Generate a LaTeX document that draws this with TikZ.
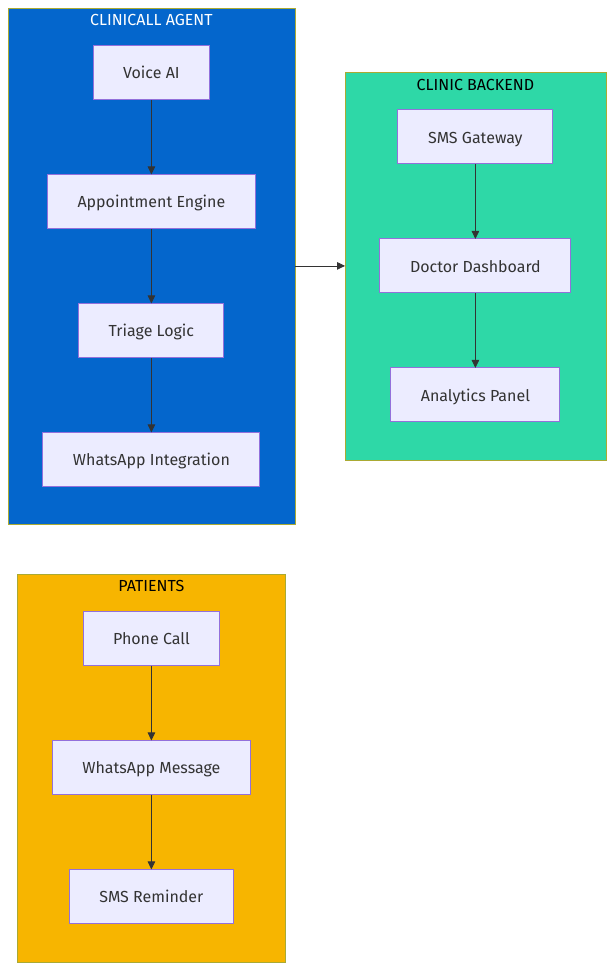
\documentclass[tikz,border=0pt]{standalone}
\usepackage{fontspec}
\setmainfont{Fira Sans}
\usetikzlibrary{arrows.meta}
\definecolor{nodefill}{HTML}{ECECFF}
\definecolor{nodeline}{HTML}{9370DB}
\definecolor{txt}{HTML}{333333}
\definecolor{agent}{HTML}{0466CC}
\definecolor{backend}{HTML}{2ED8A7}
\definecolor{patients}{HTML}{F7B500}
\definecolor{frame}{HTML}{AAAA33}
\definecolor{edge}{HTML}{333333}
\begin{document}
\begin{tikzpicture}[x=1pt,y=1pt,
  groupbox/.style={draw=frame,line width=0.7pt,inner sep=0pt},
  flow/.style={draw=edge,line width=0.8pt,-{Triangle[length=8pt,width=7.5pt]},shorten >=-0.5pt},
  stepbox/.style={draw=nodeline,fill=nodefill,line width=0.9pt,text=txt,font=\fontsize{16}{19}\selectfont,inner sep=0pt,anchor=center,text height=14pt,text depth=1pt},
  grouplabel/.style={font=\fontsize{16}{19}\selectfont,anchor=center,inner sep=0pt,text height=12.5pt,text depth=2.5pt}]
\useasboundingbox (0,0) rectangle (614,-969);
\fill[white] (0,0) rectangle (614,-969);
\node[groupbox,fill=agent,minimum width=287pt,minimum height=516pt] (gagent) at (151.4,-265.9) {};
\node[groupbox,fill=backend,minimum width=261pt,minimum height=388pt] (gbackend) at (475.4,-265.9) {};
\node[groupbox,fill=patients,minimum width=268pt,minimum height=388pt] (gpatients) at (151.4,-767.9) {};
\node[grouplabel,text=white] (lagent) at (151.4,-20) {CLINICALL AGENT};
\node[grouplabel,text=black] (lbackend) at (475.4,-85) {CLINIC BACKEND};
\node[grouplabel,text=black] (lpatients) at (151.4,-586) {PATIENTS};
\node[stepbox,minimum width=116pt,minimum height=54pt] (voice) at (151.4,-72.4) {Voice AI};
\node[stepbox,minimum width=208pt,minimum height=54pt] (appt) at (151.4,-201.4) {Appointment Engine};
\node[stepbox,minimum width=145pt,minimum height=54pt] (triage) at (151.4,-330.4) {Triage Logic};
\node[stepbox,minimum width=217pt,minimum height=54pt] (whats) at (151.4,-459.4) {WhatsApp Integration};
\node[stepbox,minimum width=155pt,minimum height=54pt] (sms) at (475.4,-136.9) {SMS Gateway};
\node[stepbox,minimum width=191pt,minimum height=54pt] (doctor) at (475.4,-265.9) {Doctor Dashboard};
\node[stepbox,minimum width=169pt,minimum height=54pt] (analytics) at (475.4,-394.9) {Analytics Panel};
\node[stepbox,minimum width=136pt,minimum height=54pt] (phone) at (151.4,-638.4) {Phone Call};
\node[stepbox,minimum width=198pt,minimum height=54pt] (wmsg) at (151.4,-767.4) {WhatsApp Message};
\node[stepbox,minimum width=164pt,minimum height=54pt] (rem) at (151.4,-896.4) {SMS Reminder};
\draw[flow] (voice) -- (appt);
\draw[flow] (appt) -- (triage);
\draw[flow] (triage) -- (whats);
\draw[flow] (sms) -- (doctor);
\draw[flow] (doctor) -- (analytics);
\draw[flow] (phone) -- (wmsg);
\draw[flow] (wmsg) -- (rem);
\draw[flow] (gagent.east) -- (gbackend.west);
\end{tikzpicture}
\end{document}
